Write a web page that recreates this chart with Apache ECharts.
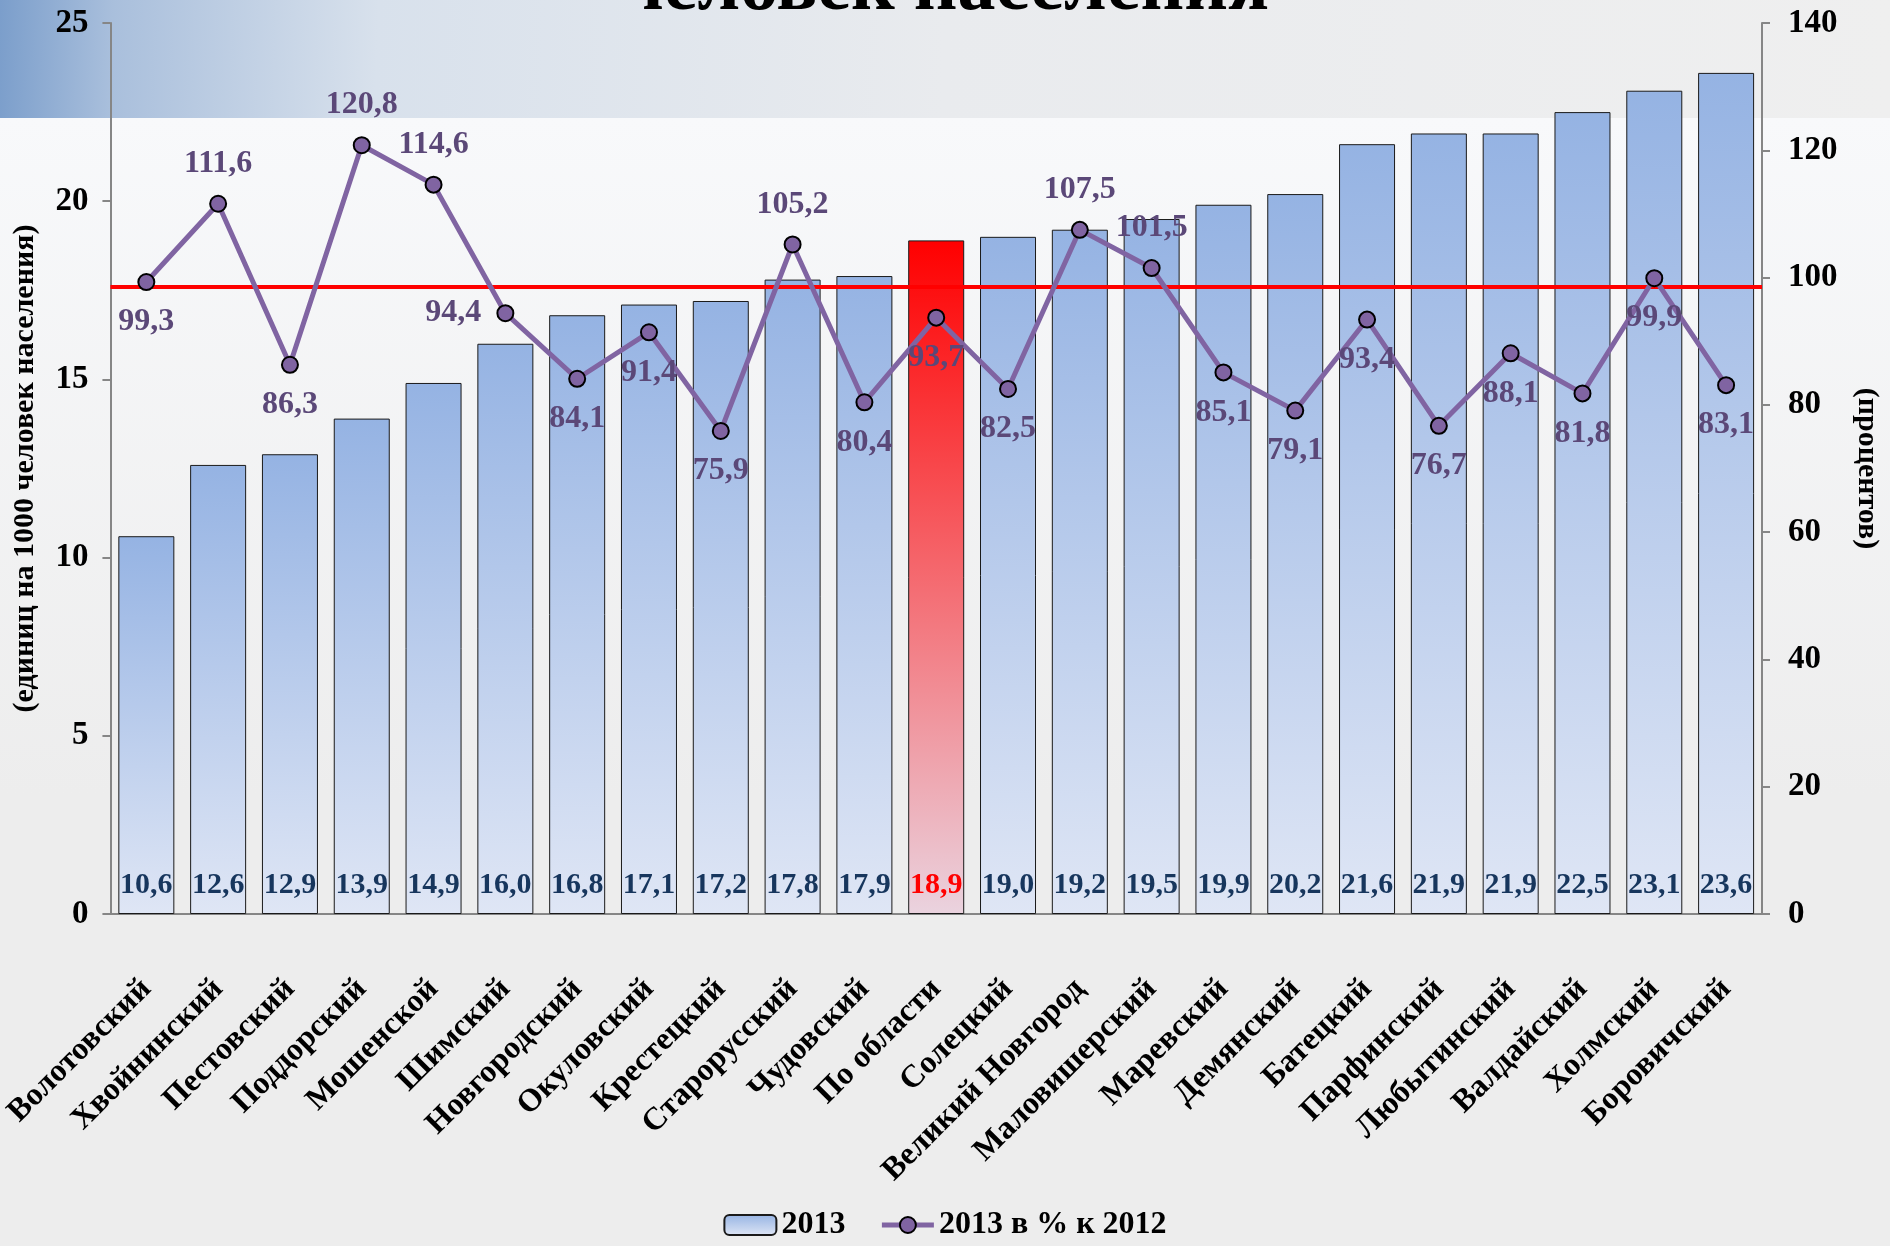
<!DOCTYPE html>
<html>
<head>
<meta charset="utf-8">
<script src="https://cdn.jsdelivr.net/npm/echarts@6/dist/echarts.min.js"></script>
<style>
    html, body { margin: 0; padding: 0; background: #ededed; }
    #chart { width: 1890px; height: 1246px; }
</style>
</head>
<body>
<div id="chart"></div>
<script>
var districts = ['Волотовский', 'Хвойнинский', 'Пестовский', 'Поддорский', 'Мошенской', 'Шимский',
    'Новгородский', 'Окуловский', 'Крестецкий', 'Старорусский', 'Чудовский', 'По области',
    'Солецкий', 'Великий Новгород', 'Маловишерский', 'Маревский', 'Демянский', 'Батецкий',
    'Парфинский', 'Любытинский', 'Валдайский', 'Холмский', 'Боровичский'];
var values_2013 = [10.6, 12.6, 12.9, 13.9, 14.9, 16.0, 16.8, 17.1, 17.2, 17.8, 17.9, 18.9,
    19.0, 19.2, 19.5, 19.9, 20.2, 21.6, 21.9, 21.9, 22.5, 23.1, 23.6];
var percent_of_2012 = [99.3, 111.6, 86.3, 120.8, 114.6, 94.4, 84.1, 91.4, 75.9, 105.2, 80.4, 93.7,
    82.5, 107.5, 101.5, 85.1, 79.1, 93.4, 76.7, 88.1, 81.8, 99.9, 83.1];
var region_name = 'По области';
var reference_level = 17.6; // red horizontal line, left axis units
var labels_on_top = [1, 3, 4, 9, 13, 14];
var labels_on_left = [5];

var font = '"Liberation Serif", "Times New Roman", serif';

function fmt(v) {
    return v.toFixed(1).replace('.', ',');
}

var chart = echarts.init(document.getElementById('chart'));

var bar_data = [];
for (var i = 0; i < districts.length; i++) {
    if (districts[i] == region_name) {
        bar_data.push({
            value: values_2013[i],
            itemStyle: {
                color: new echarts.graphic.LinearGradient(0, 0, 0, 1, [
                    { offset: 0, color: '#ff0000' },
                    { offset: 1, color: '#ead3df' }
                ])
            },
            label: { color: '#ff0000' }
        });
    } else {
        bar_data.push(values_2013[i]);
    }
}

var line_data = [];
for (var i = 0; i < percent_of_2012.length; i++) {
    var pos = 'bottom';
    if (labels_on_top.indexOf(i) >= 0) pos = 'top';
    if (labels_on_left.indexOf(i) >= 0) pos = 'left';
    line_data.push({
        value: percent_of_2012[i],
        label: { position: pos }
    });
}

option = {
    backgroundColor: '#ededed',
    graphic: [{
        type: 'rect',
        z: -10,
        silent: true,
        shape: { x: 0, y: 118, width: 1890, height: 1128 },
        style: {
            fill: new echarts.graphic.LinearGradient(0, 0, 0, 1, [
                { offset: 0, color: '#f8f9fb' },
                { offset: 0.6, color: '#ededed' },
                { offset: 1, color: '#ededed' }
            ])
        }
    }, {
        type: 'rect',
        z: -10,
        silent: true,
        shape: { x: 0, y: 0, width: 1890, height: 118 },
        style: {
            fill: new echarts.graphic.LinearGradient(0, 0, 1, 0.5, [
                { offset: 0, color: '#7b9ecb' },
                { offset: 0.06, color: '#a9bfdc' },
                { offset: 0.2, color: '#d8e1ec' },
                { offset: 0.5, color: '#e9ebee' },
                { offset: 1, color: '#efefef' }
            ])
        }
    }],
    title: {
        text: 'человек населения',
        left: 'center',
        top: -54,
        textStyle: {
            fontFamily: font,
            fontWeight: 'bold',
            fontSize: 76,
            color: '#000'
        }
    },
    legend: {
        bottom: 0,
        left: 'center',
        itemWidth: 52,
        itemHeight: 20,
        itemGap: 34,
        lineStyle: { width: 5 },
        textStyle: {
            fontFamily: font,
            fontWeight: 'bold',
            fontSize: 32,
            color: '#000'
        },
        data: ['2013', '2013 в % к 2012']
    },
    grid: {
        left: 110,
        right: 122,
        top: 23,
        bottom: 332
    },
    xAxis: [{
        type: 'category',
        data: districts,
        axisLine: { lineStyle: { color: '#868686', width: 2 } },
        axisTick: { length: 9, lineStyle: { color: '#868686', width: 2 } },
        axisLabel: {
            interval: 0,
            rotate: 45,
            margin: 70,
            fontFamily: font,
            fontWeight: 'bold',
            fontSize: 32,
            color: '#000'
        }
    }],
    yAxis: [{
        type: 'value',
        min: 0,
        max: 25,
        interval: 5,
        name: '(единиц на 1000 человек населения)',
        nameLocation: 'middle',
        nameGap: 70,
        nameTextStyle: {
            fontFamily: font,
            fontWeight: 'bold',
            fontSize: 30,
            color: '#000'
        },
        axisLine: { show: true, lineStyle: { color: '#868686', width: 2 } },
        axisTick: { show: true, length: 8, lineStyle: { color: '#868686', width: 2 } },
        splitLine: { show: false },
        axisLabel: {
            margin: 22,
            fontFamily: font,
            fontWeight: 'bold',
            fontSize: 33,
            color: '#000'
        }
    }, {
        type: 'value',
        min: 0,
        max: 140,
        interval: 20,
        position: 'right',
        name: '(процентов)',
        nameLocation: 'middle',
        nameGap: 90,
        nameRotate: -90,
        nameTextStyle: {
            fontFamily: font,
            fontWeight: 'bold',
            fontSize: 30,
            color: '#000'
        },
        axisLine: { show: true, lineStyle: { color: '#868686', width: 2 } },
        axisTick: { show: true, length: 8, lineStyle: { color: '#868686', width: 2 } },
        splitLine: { show: false },
        axisLabel: {
            margin: 26,
            fontFamily: font,
            fontWeight: 'bold',
            fontSize: 33,
            color: '#000'
        }
    }],
    series: [{
        name: '2013',
        type: 'bar',
        barWidth: 56,
        itemStyle: {
            color: new echarts.graphic.LinearGradient(0, 0, 0, 1, [
                { offset: 0, color: '#95b3e3' },
                { offset: 1, color: '#dfe6f5' }
            ]),
            borderColor: '#1a1a1a',
            borderWidth: 1
        },
        label: {
            show: true,
            position: 'insideBottom',
            distance: 14,
            formatter: function (p) { return fmt(p.value); },
            fontFamily: font,
            fontWeight: 'bold',
            fontSize: 30,
            color: '#17365d'
        },
        markLine: {
            silent: true,
            symbol: ['none', 'none'],
            label: { show: false },
            lineStyle: { color: '#ff0000', width: 4, type: 'solid' },
            data: [{ yAxis: reference_level }]
        },
        data: bar_data
    }, {
        name: '2013 в % к 2012',
        type: 'line',
        yAxisIndex: 1,
        symbol: 'circle',
        symbolSize: 16,
        lineStyle: { color: '#8064a2', width: 5 },
        itemStyle: { color: '#8064a2', borderColor: '#000', borderWidth: 2 },
        label: {
            show: true,
            distance: 15,
            formatter: function (p) { return fmt(p.value); },
            fontFamily: font,
            fontWeight: 'bold',
            fontSize: 32,
            color: '#5b4878'
        },
        z: 5,
        data: line_data
    }]
};

chart.setOption(option);
</script>
</body>
</html>
